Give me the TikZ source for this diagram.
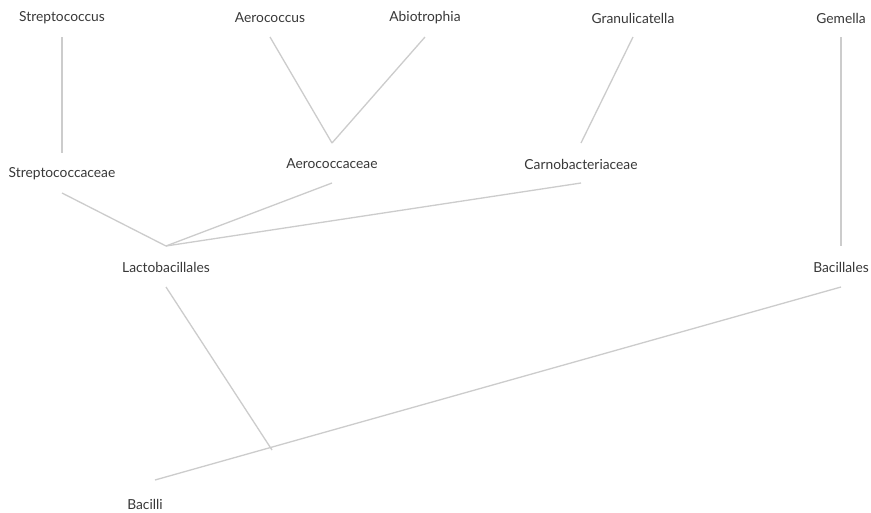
\documentclass[tikz,border=0pt]{standalone}
\usepackage{fontspec}
\setmainfont{Lato}
\definecolor{txt}{HTML}{383838}
\definecolor{edge}{HTML}{CCCCCC}
\begin{document}
\begin{tikzpicture}[x=1pt,y=-1pt,
  lbl/.style={text=txt,font=\fontsize{13.8}{16}\selectfont,inner sep=0pt},
  link/.style={draw=edge,line width=1.3pt}]
\path[use as bounding box,fill=white] (0,0) rectangle (871,512);
\node[lbl] (strep) at (62,18) {Streptococcus};
\node[lbl] (aero) at (270,18) {Aerococcus};
\node[lbl] (abio) at (425,18) {Abiotrophia};
\node[lbl] (gran) at (633,18) {Granulicatella};
\node[lbl] (gem) at (841,18) {Gemella};
\node[lbl] (strepf) at (62,174) {Streptococcaceae};
\node[lbl] (aerof) at (332,164) {Aerococcaceae};
\node[lbl] (carno) at (581,164) {Carnobacteriaceae};
\node[lbl] (lacto) at (166,267) {Lactobacillales};
\node[lbl] (bacl) at (841,267) {Bacillales};
\node[lbl] (bacilli) at (145,504) {Bacilli};
% connector end points
\coordinate (strepB) at ([yshift=-19pt]strep.center);
\coordinate (aeroB) at ([yshift=-19pt]aero.center);
\coordinate (abioB) at ([yshift=-19pt]abio.center);
\coordinate (granB) at ([yshift=-19pt]gran.center);
\coordinate (gemB) at ([yshift=-19pt]gem.center);
\coordinate (strepfT) at ([yshift=21pt]strepf.center);
\coordinate (aerofT) at ([yshift=21pt]aerof.center);
\coordinate (carnoT) at ([yshift=21pt]carno.center);
\coordinate (strepfB) at ([yshift=-19pt]strepf.center);
\coordinate (aerofB) at ([yshift=-19pt]aerof.center);
\coordinate (carnoB) at ([yshift=-19pt]carno.center);
\coordinate (lactoT) at ([yshift=21pt]lacto.center);
\coordinate (baclT) at ([yshift=21pt]bacl.center);
\coordinate (lactoB) at ([yshift=-20pt]lacto.center);
\coordinate (baclB) at ([yshift=-20pt]bacl.center);
\coordinate (lactoE) at (272,450);
\coordinate (bacilliT) at (155,480);
\draw[link] (strepB) -- (strepfT);
\draw[link] (aeroB) -- (aerofT);
\draw[link] (abioB) -- (aerofT);
\draw[link] (granB) -- (carnoT);
\draw[link] (gemB) -- (baclT);
\draw[link] (strepfB) -- (lactoT);
\draw[link] (aerofB) -- (lactoT);
\draw[link] (carnoB) -- (lactoT);
\draw[link] (lactoB) -- (lactoE);
\draw[link] (baclB) -- (bacilliT);
\end{tikzpicture}
\end{document}
